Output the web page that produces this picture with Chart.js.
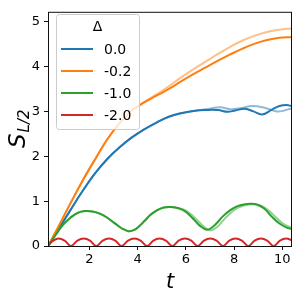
<!DOCTYPE html>
<html>
<head>
<meta charset="utf-8">
<script src="https://cdn.jsdelivr.net/npm/chart.js@4.4.0/dist/chart.umd.min.js"></script>
<style>
  html, body { margin: 0; padding: 0; background: #fff; }
  #wrap { width: 299px; height: 299px; }
</style>
</head>
<body>
<div id="wrap"><canvas id="entropy-chart" width="299" height="299"></canvas></div>
<script>
// S_{L/2}(t) for several Delta values (dark = main run, faint = second run)

const deltaLabels = ['0.0', '-0.2', '-1.0', '-2.0'];
const xTicks = [2, 4, 6, 8, 10];
const yTicks = [0, 1, 2, 3, 4, 5];

// Delta = 0.0
const tBlue = [0.29, 0.70, 1.21, 1.72, 2.23, 2.74, 3.25, 3.76, 4.27, 4.78, 5.29, 5.80, 6.31, 6.82, 7.33, 7.73, 8.04, 8.45, 8.80, 9.16, 9.57, 9.88, 10.18, 10.39];
const sBlue = [0, 0.36, 0.80, 1.23, 1.62, 1.94, 2.20, 2.42, 2.60, 2.75, 2.88, 2.96, 3.01, 3.03, 3.03, 2.99, 3.02, 3.06, 3.00, 2.93, 3.04, 3.12, 3.14, 3.12];
const tBlueFaint = [0.29, 0.70, 1.21, 1.72, 2.23, 2.74, 3.25, 3.76, 4.27, 4.78, 5.29, 5.80, 6.31, 6.82, 7.43, 7.84, 8.24, 8.75, 9.26, 9.77, 10.08, 10.39];
const sBlueFaint = [0, 0.36, 0.80, 1.23, 1.62, 1.94, 2.20, 2.42, 2.60, 2.75, 2.88, 2.96, 3.01, 3.05, 3.09, 3.05, 3.07, 3.12, 3.08, 3.00, 3.02, 3.07];

// Delta = -0.2
const tOrange = [0.29, 0.70, 1.21, 1.72, 2.23, 2.74, 3.25, 3.76, 4.27, 4.78, 5.29, 5.80, 6.31, 6.82, 7.33, 7.84, 8.35, 8.86, 9.37, 9.88, 10.39];
const sOrange = [0, 0.42, 0.95, 1.46, 1.93, 2.38, 2.74, 3.02, 3.20, 3.35, 3.50, 3.67, 3.83, 3.98, 4.13, 4.27, 4.40, 4.51, 4.59, 4.64, 4.66];
const sOrangeFaint = [0, 0.42, 0.95, 1.46, 1.93, 2.38, 2.74, 3.02, 3.21, 3.38, 3.56, 3.76, 3.94, 4.11, 4.28, 4.44, 4.58, 4.69, 4.77, 4.82, 4.85];

// Delta = -1.0
const tGreen = [0.29, 0.60, 0.90, 1.21, 1.51, 1.82, 2.13, 2.43, 2.74, 3.04, 3.35, 3.62, 3.86, 4.06, 4.27, 4.52, 4.78, 5.08, 5.39, 5.70, 6.00, 6.31, 6.56, 6.87, 7.12, 7.33, 7.53, 7.84, 8.14, 8.45, 8.70, 8.96, 9.26, 9.57, 9.88, 10.18, 10.39];
const sGreen = [0, 0.25, 0.47, 0.63, 0.74, 0.78, 0.77, 0.72, 0.63, 0.51, 0.39, 0.33, 0.36, 0.44, 0.55, 0.69, 0.79, 0.86, 0.87, 0.84, 0.76, 0.60, 0.46, 0.36, 0.43, 0.54, 0.66, 0.80, 0.89, 0.93, 0.94, 0.92, 0.83, 0.65, 0.50, 0.41, 0.38];
const tGreenFaint = [0.29, 0.60, 0.90, 1.21, 1.51, 1.82, 2.13, 2.43, 2.74, 3.04, 3.35, 3.62, 3.86, 4.06, 4.27, 4.52, 4.78, 5.08, 5.39, 5.70, 6.00, 6.31, 6.61, 6.87, 7.07, 7.33, 7.53, 7.84, 8.14, 8.45, 8.80, 9.06, 9.37, 9.67, 9.98, 10.23, 10.39];
const sGreenFaint = [0, 0.25, 0.47, 0.63, 0.74, 0.78, 0.77, 0.72, 0.63, 0.51, 0.39, 0.33, 0.36, 0.44, 0.55, 0.69, 0.79, 0.86, 0.87, 0.84, 0.79, 0.66, 0.50, 0.38, 0.35, 0.44, 0.56, 0.73, 0.85, 0.91, 0.93, 0.91, 0.82, 0.67, 0.52, 0.44, 0.41];

// Delta = -2.0
const tRed = [0.29, 0.50, 0.71, 0.97, 1.23, 1.50, 1.76, 2.02, 2.28, 2.55, 2.81, 3.07, 3.33, 3.60, 3.86, 4.12, 4.39, 4.65, 4.91, 5.17, 5.44, 5.70, 5.96, 6.22, 6.49, 6.75, 7.01, 7.27, 7.54, 7.80, 8.06, 8.32, 8.59, 8.85, 9.11, 9.37, 9.64, 9.90, 10.16, 10.39];
const sRed = [0.03, 0.12, 0.165, 0.12, 0, 0.12, 0.165, 0.12, 0, 0.12, 0.165, 0.12, 0, 0.12, 0.165, 0.12, 0, 0.12, 0.165, 0.12, 0, 0.12, 0.165, 0.12, 0, 0.12, 0.165, 0.12, 0, 0.12, 0.165, 0.12, 0, 0.12, 0.165, 0.12, 0, 0.12, 0.165, 0.13];

const colors = ['#1f77b4', '#ff7f0e', '#2ca02c', '#d62728'];
const faintColors = ['rgba(31,119,180,0.5)', 'rgba(255,127,14,0.5)', 'rgba(44,160,44,0.5)'];

const FONT = "'DejaVu Sans', sans-serif";

function pts(t, s) {
    return t.map((x, i) => ({ x: x, y: s[i] }));
}

function line(data, color, mode) {
    return {
        data: data,
        borderColor: color,
        borderWidth: 2,
        pointRadius: 0,
        fill: false,
        tension: 0.4,
        cubicInterpolationMode: mode || 'default'
    };
}

// frame, axis titles and the inset legend
const decorations = {
    id: 'decorations',
    afterDraw(chart) {
        const ctx = chart.ctx;
        const a = chart.chartArea;
        ctx.save();
        ctx.strokeStyle = '#111';
        ctx.lineWidth = 1;
        ctx.strokeRect(a.left + 0.5, a.top + 0.5, a.right - a.left - 1, a.bottom - a.top);

        // x title
        ctx.fillStyle = '#000';
        ctx.font = 'italic 21px ' + FONT;
        ctx.textAlign = 'center';
        ctx.textBaseline = 'alphabetic';
        ctx.fillText('t', (a.left + a.right) / 2, 288);

        // y title S_{L/2}
        ctx.save();
        ctx.translate(25, 148);
        ctx.rotate(-Math.PI / 2);
        ctx.textAlign = 'left';
        ctx.font = 'italic 23px ' + FONT;
        ctx.fillText('S', 0, 0);
        const w = ctx.measureText('S').width;
        ctx.font = 'italic 15px ' + FONT;
        ctx.fillText('L/2', w + 1, 4);
        ctx.restore();

        // legend
        const lx = 56, ly = 14, lw = 83, lh = 115;
        ctx.beginPath();
        ctx.roundRect(lx + 0.5, ly + 0.5, lw, lh, 3);
        ctx.fillStyle = 'rgba(255,255,255,0.8)';
        ctx.fill();
        ctx.strokeStyle = '#cccccc';
        ctx.stroke();

        ctx.fillStyle = '#000';
        ctx.font = '14px ' + FONT;
        ctx.textAlign = 'center';
        ctx.textBaseline = 'middle';
        ctx.fillText('\u0394', lx + lw / 2, 27);

        ctx.textAlign = 'left';
        deltaLabels.forEach((lab, i) => {
            const y = 49 + i * 22;
            ctx.strokeStyle = colors[i];
            ctx.lineWidth = 2;
            ctx.beginPath();
            ctx.moveTo(61, y);
            ctx.lineTo(93, y);
            ctx.stroke();
            ctx.fillStyle = '#000';
            ctx.fillText(lab, 104, y + 1);
        });
        ctx.restore();
    }
};

const ctx = document.getElementById('entropy-chart').getContext('2d');

new Chart(ctx, {
    type: 'line',
    data: {
        datasets: [
            line(pts(tRed, sRed), colors[3], 'monotone'),
            line(pts(tGreen, sGreen), colors[2]),
            line(pts(tOrange, sOrange), colors[1]),
            line(pts(tBlue, sBlue), colors[0]),
            line(pts(tGreenFaint, sGreenFaint), faintColors[2]),
            line(pts(tOrange, sOrangeFaint), faintColors[1]),
            line(pts(tBlueFaint, sBlueFaint), faintColors[0])
        ]
    },
    options: {
        responsive: false,
        animation: false,
        layout: { padding: { top: 7, right: 7, left: 0, bottom: 0 } },
        plugins: {
            legend: { display: false },
            tooltip: { enabled: false }
        },
        scales: {
            x: {
                type: 'linear',
                min: 0.28,
                max: 10.4,
                afterBuildTicks: axis => { axis.ticks = xTicks.map(v => ({ value: v })); },
                afterFit: axis => { axis.height = 53; },
                grid: { drawOnChartArea: false, tickLength: 4, tickColor: '#111', tickWidth: 1 },
                border: { display: false },
                ticks: { color: '#000', padding: 2, maxRotation: 0, font: { family: FONT, size: 13 } }
            },
            y: {
                type: 'linear',
                min: 0,
                max: 5.22,
                afterBuildTicks: axis => { axis.ticks = yTicks.map(v => ({ value: v })); },
                afterFit: axis => { axis.width = 48; },
                grid: { drawOnChartArea: false, tickLength: 4, tickColor: '#111', tickWidth: 1 },
                border: { display: false },
                ticks: { color: '#000', padding: 4, font: { family: FONT, size: 13 } }
            }
        }
    },
    plugins: [decorations]
});
</script>
</body>
</html>
